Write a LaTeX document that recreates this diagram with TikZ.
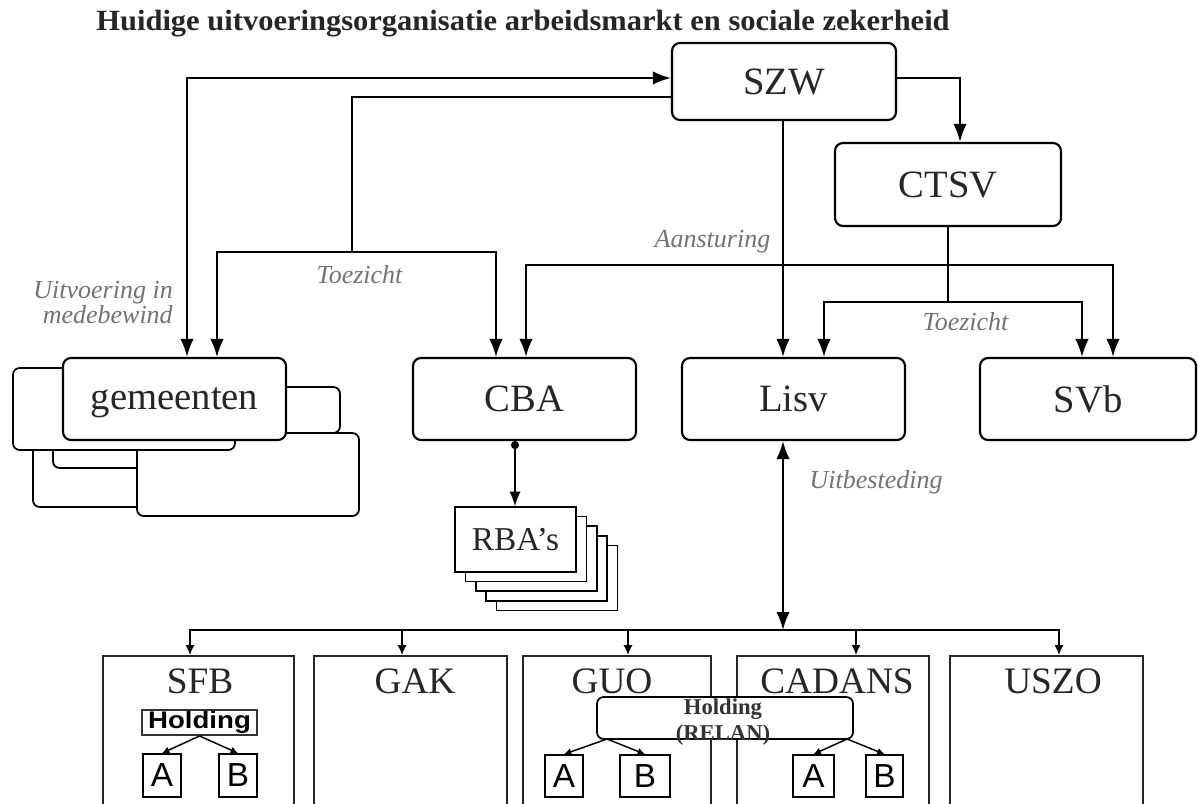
\documentclass[tikz,border=0pt]{standalone}
\usepackage{fontspec}
\usepackage{graphicx}
\setmainfont{Liberation Serif}
\newfontfamily\arialfont{Liberation Sans}
\usetikzlibrary{arrows.meta}
% \pbox{style}{name}{x1}{y1}{x2}{y2}{text}  (pixel corners, y downwards)
\newcommand{\pbox}[7]{%
  \node[#1, minimum width={((#5)-(#3))*0.75pt}, minimum height={((#6)-(#4))*0.75pt}]
    (#2) at ({((#3)+(#5))/2},{((#4)+(#6))/2}) {#7};}
\begin{document}
\begin{tikzpicture}[x=0.75pt,y=-0.75pt,
  >={Latex[length=13.5pt,width=10pt]},
  rbox/.style={draw, line width=1.6pt, rounded corners=6pt, fill=white, inner sep=0pt,
    text=black!85, text depth=0pt, font=\fontsize{29}{30}\selectfont},
  gbox/.style={draw, line width=1.3pt, rounded corners=5pt, fill=white, inner sep=0pt},
  sbox/.style={draw, line width=1.2pt, fill=white, inner sep=0pt},
  bbox/.style={draw, line width=1.5pt, draw=black!85, fill=white, inner sep=0pt},
  blab/.style={anchor=base, text=black!85, font=\fontsize{28}{30}\selectfont},
  note/.style={text=black!55, font=\fontsize{19.5}{21}\selectfont\itshape},
  conn/.style={line width=1.6pt},
  tconn/.style={line width=1.15pt},
  small/.style={line width=1.3pt, -{Latex[length=7.5pt,width=7pt]}},
  tiny/.style={line width=1.1pt, -{Latex[length=5.5pt,width=5.5pt]}},
  abbox/.style={draw, line width=1.2pt, fill=white, inner sep=0pt,
    font=\arialfont\fontsize{25}{27}\selectfont}
]
\useasboundingbox (0,0) rectangle (1198,803);
\clip (0,0) rectangle (1198,803);
\fill[white] (0,0) rectangle (1198,803);

% title
\node[anchor=base, text=black!85, font=\fontsize{22}{24}\selectfont\bfseries] (title) at (523,30)
  {\scalebox{1.04}[1]{Huidige uitvoeringsorganisatie arbeidsmarkt en sociale zekerheid}};

% main boxes
\pbox{rbox}{szw}{672}{43}{896}{120}{SZW}
\pbox{rbox}{ctsv}{835}{143}{1061}{226}{CTSV}

% gemeenten stack
\pbox{gbox}{gc}{33}{430}{200}{507}{}
\pbox{gbox}{gd}{53}{400}{250}{468}{}
\pbox{gbox}{gb}{100}{387}{340}{433}{}
\pbox{gbox}{ge}{137}{433}{359}{516}{}
\pbox{gbox}{ga}{13}{368}{235}{450}{}
\pbox{rbox}{gem}{63}{358}{286}{440}{gemeenten}

\pbox{rbox}{cba}{413}{358}{636}{440}{CBA}
\pbox{rbox}{lisv}{682}{358}{905}{440}{Lisv}
\pbox{rbox}{svb}{980}{358}{1196}{440}{SVb}

% RBA's stack
\foreach \k in {4,3,2,1}{
  \pbox{sbox}{rba\k}{455+10.4*\k}{507+9.6*\k}{576+10.4*\k}{572+9.6*\k}{}
}
\pbox{sbox, text=black!85, font=\fontsize{25}{27}\selectfont}{rba0}{455}{507}{576}{572}{RBA’s}

% bottom organisations
\pbox{bbox}{sfb}{103}{656}{294}{830}{}
\pbox{bbox}{gak}{314}{656}{507}{830}{}
\pbox{bbox}{guo}{523}{656}{711}{830}{}
\pbox{bbox}{cadans}{737}{656}{929}{830}{}
\pbox{bbox}{uszo}{950}{656}{1143}{830}{}
\node[blab] (sfbt) at (200,693) {SFB};
\node[blab] (gakt) at (415,693) {GAK};
\node[blab] (guot) at (612,693) {GUO};
\node[blab] (cadanst) at (837,693) {CADANS};
\node[blab] (uszot) at (1053,693) {USZO};

% SFB holding
\pbox{draw, line width=1.4pt, draw=black!80, fill=white, inner sep=0pt,
  font=\arialfont\bfseries\fontsize{18}{19}\selectfont}{sfbh}{142}{710}{257}{735}{\scalebox{1.15}[1]{Holding}}
\pbox{abbox}{sfba}{143}{754}{181}{797}{A}
\pbox{abbox}{sfbb}{219}{754}{257}{797}{B}
\draw[tiny] (sfbh.south) -- (sfba.north);
\draw[tiny] (sfbh.south) -- (sfbb.north);

% RELAN holding
\pbox{draw, line width=1.3pt, rounded corners=5pt, fill=white, inner sep=0pt}{relan}{597}{697}{853}{739}{}
\node[anchor=base, text=black!80, font=\fontsize{17}{18}\selectfont\bfseries] (relant1) at (723,714) {Holding};
\node[anchor=base, text=black!80, font=\fontsize{17}{18}\selectfont\bfseries] (relant2) at (723,740) {(RELAN)};
\pbox{abbox}{guoa}{545}{755}{583}{797}{A}
\pbox{abbox}{guob}{620}{755}{670}{797}{B}
\pbox{abbox}{cada}{793}{755}{834}{797}{A}
\pbox{abbox}{cadb}{866}{755}{903}{797}{B}
\coordinate (rl) at (607,739);
\coordinate (rr) at (847,739);
\draw[tiny] (rl) -- (guoa.north);
\draw[tiny] (rl) -- (guob.north);
\draw[tiny] (rr) -- (cada.north);
\draw[tiny] (rr) -- (cadb.north);

% connectors from SZW
\draw[conn,<->] (gem.north -| 187,0) |- (szw.west |- 0,78);
\coordinate (tzl) at (352,252);
\draw[tconn] (szw.west |- 0,97) -| (tzl);
\draw[tconn,->] (tzl) -| (gem.north -| 217,0);
\draw[tconn,->] (tzl) -| (cba.north -| 496,0);
\draw[conn,->] (szw.east |- 0,78) -| (ctsv.north -| 960,0);
\draw[conn,->] (szw.south -| 783,0) -- (lisv.north -| 783,0);
\coordinate (aj) at (783,265);
\draw[conn,->] (aj) -| (cba.north -| 526,0);
\draw[conn,->] (aj) -| (svb.north -| 1113,0);

% from CTSV
\coordinate (tj) at (948,302);
\draw[tconn] (ctsv.south -| 948,0) -- (tj);
\draw[tconn,->] (tj) -| (lisv.north -| 824,0);
\draw[tconn,->] (tj) -| (svb.north -| 1082,0);

% CBA to RBA's
\draw[line width=1.4pt, {Circle[length=6pt]}-{Latex[length=11pt,width=8.5pt]}] (cba.south -| 515,0) -- (rba0.north -| 515,0);

% Lisv outsourcing
\coordinate (bj) at (783,630);
\draw[conn,<->] (lisv.south -| 783,0) -- (bj);
\draw[small] (bj) -| (sfb.north -| 190,0);
\draw[small] (bj) -| (gak.north -| 402,0);
\draw[small] (bj) -| (guo.north -| 628,0);
\draw[small] (bj) -| (cadans.north -| 856,0);
\draw[small] (bj) -| (uszo.north -| 1059,0);

% labels
\node[note, align=right, anchor=east, inner sep=0pt, font=\fontsize{19.5}{17.3}\selectfont\itshape]
  (uit) at (173,302.5) {Uitvoering in\\medebewind};
\node[note, anchor=base west] (toez1) at (312,283) {Toezicht};
\node[note, anchor=base west] (aans) at (650,247) {Aansturing};
\node[note, anchor=base west] (toez2) at (918,330) {Toezicht};
\node[note, anchor=base west] (uitb) at (805,488) {Uitbesteding};
\end{tikzpicture}
\end{document}
